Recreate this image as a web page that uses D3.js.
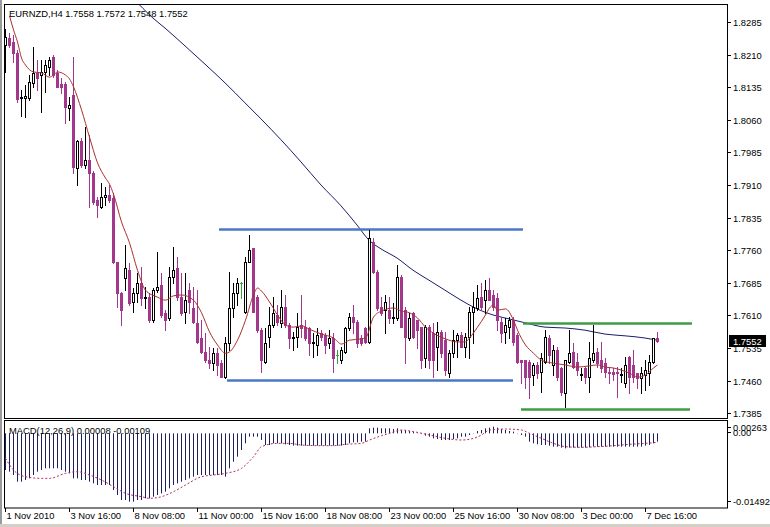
<!DOCTYPE html>
<html><head><meta charset="utf-8">
<script src="https://cdn.jsdelivr.net/npm/d3@7"></script>
<style>
body{margin:0;background:#fff;}
svg text{font-family:"Liberation Sans",Arial,sans-serif;font-size:9.4px;fill:#000;}
</style>
</head><body>
<svg id="c" width="770" height="527"></svg>
<script>
// ---------- DATA ----------
const symbol = "EURNZD,H4";
const open = [
1.8232,1.8248,1.8239,1.8214,1.8110,1.8110,1.8110,1.8145,1.8168,1.8163,
1.8170,1.8181,1.8204,1.8168,1.8143,1.8143,1.8087,1.8117,1.7949,1.8011,
1.7956,1.7968,1.7938,1.7876,1.7859,1.7882,1.7887,1.7880,1.7733,1.7662,
1.7696,1.7714,1.7641,1.7662,1.7685,1.7650,1.7652,1.7599,1.7668,1.7680,
1.7616,1.7604,1.7698,1.7719,1.7652,1.7618,1.7668,1.7627,1.7593,1.7558,
1.7526,1.7507,1.7500,1.7523,1.7500,1.7468,1.7546,1.7627,1.7662,1.7685,
1.7618,1.7733,1.7765,1.7652,1.7576,1.7503,1.7560,1.7588,1.7611,1.7593,
1.7629,1.7588,1.7558,1.7560,1.7588,1.7583,1.7581,1.7546,1.7542,1.7569,
1.7565,1.7546,1.7558,1.7519,1.7507,1.7526,1.7581,1.7606,1.7595,1.7558,
1.7581,1.7549,1.7779,1.7710,1.7629,1.7622,1.7622,1.7604,1.7604,1.7698,
1.7622,1.7558,1.7616,1.7599,1.7583,1.7512,1.7583,1.7569,1.7537,1.7572,
1.7553,1.7477,1.7523,1.7553,1.7565,1.7537,1.7560,1.7618,1.7627,1.7652,
1.7645,1.7668,1.7657,1.7650,1.7595,1.7572,1.7583,1.7599,1.7565,1.7507,
1.7507,1.7503,1.7473,1.7496,1.7480,1.7503,1.7558,1.7496,1.7530,1.7489,
1.7431,1.7503,1.7526,1.7503,1.7473,1.7489,1.7468,1.7507,1.7526,1.7507,
1.7500,1.7480,1.7480,1.7480,1.7474,1.7454,1.7514,1.7496,1.7477,1.7466,
1.7473,1.7477,1.7503,1.7558];
const high = [
1.8269,1.8260,1.8255,1.8221,1.8129,1.8140,1.8163,1.8227,1.8198,1.8198,
1.8198,1.8204,1.8209,1.8175,1.8156,1.8147,1.8112,1.8204,1.8014,1.8018,
1.8043,1.8025,1.7942,1.7882,1.7915,1.7906,1.7910,1.7892,1.7733,1.7664,
1.7772,1.7731,1.7673,1.7708,1.7721,1.7675,1.7662,1.7673,1.7756,1.7708,
1.7622,1.7721,1.7767,1.7744,1.7708,1.7708,1.7685,1.7675,1.7668,1.7599,
1.7569,1.7537,1.7535,1.7535,1.7507,1.7560,1.7710,1.7685,1.7696,1.7687,
1.7744,1.7795,1.7765,1.7657,1.7581,1.7581,1.7629,1.7652,1.7634,1.7668,
1.7657,1.7593,1.7572,1.7616,1.7657,1.7599,1.7583,1.7569,1.7581,1.7576,
1.7569,1.7576,1.7569,1.7530,1.7537,1.7583,1.7616,1.7634,1.7599,1.7565,
1.7583,1.7806,1.7788,1.7714,1.7652,1.7657,1.7652,1.7639,1.7726,1.7703,
1.7629,1.7616,1.7618,1.7599,1.7583,1.7588,1.7588,1.7593,1.7595,1.7576,
1.7572,1.7530,1.7576,1.7569,1.7572,1.7569,1.7629,1.7664,1.7680,1.7685,
1.7691,1.7696,1.7668,1.7662,1.7606,1.7604,1.7606,1.7606,1.7569,1.7507,
1.7507,1.7507,1.7500,1.7503,1.7523,1.7576,1.7565,1.7542,1.7537,1.7491,
1.7507,1.7576,1.7546,1.7523,1.7489,1.7491,1.7549,1.7588,1.7535,1.7549,
1.7512,1.7491,1.7489,1.7491,1.7489,1.7514,1.7516,1.7530,1.7477,1.7491,
1.7507,1.7519,1.7558,1.7572];
const low = [
1.8170,1.8227,1.8193,1.8101,1.8069,1.8067,1.8106,1.8136,1.8129,1.8078,
1.8124,1.8163,1.8158,1.8136,1.8122,1.8053,1.8060,1.7938,1.7910,1.7951,
1.7949,1.7859,1.7866,1.7836,1.7857,1.7864,1.7871,1.7731,1.7629,1.7588,
1.7668,1.7634,1.7618,1.7641,1.7634,1.7627,1.7595,1.7595,1.7664,1.7606,
1.7576,1.7599,1.7685,1.7645,1.7611,1.7593,1.7616,1.7593,1.7546,1.7523,
1.7503,1.7489,1.7484,1.7473,1.7468,1.7466,1.7530,1.7606,1.7634,1.7650,
1.7616,1.7733,1.7618,1.7572,1.7480,1.7500,1.7537,1.7583,1.7588,1.7583,
1.7583,1.7535,1.7530,1.7537,1.7560,1.7553,1.7519,1.7514,1.7519,1.7553,
1.7523,1.7535,1.7480,1.7500,1.7500,1.7523,1.7576,1.7569,1.7537,1.7542,
1.7546,1.7546,1.7708,1.7622,1.7611,1.7569,1.7593,1.7593,1.7599,1.7583,
1.7500,1.7553,1.7558,1.7535,1.7489,1.7491,1.7489,1.7468,1.7484,1.7514,
1.7473,1.7468,1.7514,1.7514,1.7537,1.7514,1.7512,1.7546,1.7622,1.7622,
1.7616,1.7645,1.7622,1.7576,1.7549,1.7546,1.7558,1.7542,1.7500,1.7454,
1.7443,1.7420,1.7450,1.7466,1.7434,1.7500,1.7500,1.7473,1.7461,1.7427,
1.7399,1.7500,1.7489,1.7473,1.7461,1.7454,1.7434,1.7503,1.7491,1.7480,
1.7468,1.7454,1.7461,1.7422,1.7457,1.7445,1.7431,1.7457,1.7443,1.7431,
1.7438,1.7450,1.7500,1.7548];
const close = [
1.8250,1.8232,1.8214,1.8108,1.8112,1.8115,1.8147,1.8168,1.8156,1.8170,
1.8186,1.8198,1.8163,1.8136,1.8136,1.8089,1.8094,1.7951,1.8011,1.7956,
1.7968,1.7938,1.7871,1.7864,1.7882,1.7887,1.7876,1.7733,1.7662,1.7622,
1.7719,1.7639,1.7662,1.7685,1.7650,1.7652,1.7599,1.7668,1.7675,1.7611,
1.7599,1.7698,1.7714,1.7652,1.7616,1.7645,1.7641,1.7595,1.7549,1.7526,
1.7507,1.7500,1.7523,1.7496,1.7468,1.7546,1.7627,1.7662,1.7685,1.7685,
1.7733,1.7760,1.7618,1.7576,1.7507,1.7546,1.7588,1.7616,1.7595,1.7629,
1.7588,1.7558,1.7560,1.7583,1.7581,1.7558,1.7546,1.7549,1.7565,1.7560,
1.7542,1.7558,1.7512,1.7519,1.7530,1.7581,1.7606,1.7595,1.7546,1.7546,
1.7549,1.7788,1.7710,1.7627,1.7616,1.7641,1.7604,1.7606,1.7698,1.7583,
1.7560,1.7604,1.7560,1.7576,1.7507,1.7583,1.7507,1.7507,1.7572,1.7523,
1.7484,1.7523,1.7553,1.7565,1.7537,1.7560,1.7618,1.7629,1.7650,1.7629,
1.7668,1.7645,1.7629,1.7599,1.7569,1.7588,1.7599,1.7549,1.7503,1.7503,
1.7468,1.7468,1.7496,1.7477,1.7512,1.7560,1.7519,1.7530,1.7468,1.7434,
1.7507,1.7523,1.7491,1.7484,1.7475,1.7468,1.7512,1.7523,1.7500,1.7489,
1.7480,1.7477,1.7475,1.7477,1.7476,1.7496,1.7468,1.7468,1.7466,1.7477,
1.7484,1.7503,1.7558,1.7552];

// fast moving average (red): bar index / price
const fastMaBar = [1,2,3,4,5,7,9,11,12,13,15,16,17,19,21,23,25,26,27,29,31,33,35,38,40,42,44,47,49,51,53,55,56,58,60,62,63,64,66,68,70,72,74,76,79,82,84,86,89,90,92,94,97,99,101,103,105,107,110,113,115,116,118,120,121,122,123,125,127,128,130,132,134,137,140,143,146,148,150,152,154,156,158,160,162,163];
const fastMaVal = [1.8299,1.8267,1.8239,1.8202,1.8186,1.8170,1.8168,1.8158,1.8163,1.8170,1.8163,1.8154,1.8136,1.8083,1.8020,1.7961,1.7926,1.7912,1.7889,1.7825,1.7777,1.7714,1.7668,1.7652,1.7645,1.7655,1.7657,1.7645,1.7616,1.7572,1.7542,1.7523,1.7526,1.7553,1.7599,1.7657,1.7673,1.7666,1.7641,1.7611,1.7588,1.7583,1.7586,1.7578,1.7567,1.7558,1.7544,1.7553,1.7556,1.7558,1.7606,1.7620,1.7627,1.7620,1.7616,1.7604,1.7583,1.7569,1.7556,1.7549,1.7549,1.7558,1.7583,1.7611,1.7627,1.7634,1.7622,1.7625,1.7599,1.7576,1.7542,1.7523,1.7507,1.7500,1.7496,1.7491,1.7494,1.7496,1.7491,1.7489,1.7484,1.7477,1.7468,1.7473,1.7489,1.7496];

// slow moving average (navy)
const slowMaBar = [32,37,40,45,50,55,60,64,69,74,79,84,88,91,94,98,102,106,110,114,118,122,126,130,135,140,145,150,155,160,163];
const slowMaVal = [1.8340,1.8294,1.8271,1.8230,1.8188,1.8145,1.8099,1.8062,1.8014,1.7963,1.7910,1.7862,1.7818,1.7783,1.7763,1.7742,1.7714,1.7691,1.7668,1.7645,1.7625,1.7611,1.7602,1.7593,1.7583,1.7581,1.7576,1.7567,1.7563,1.7558,1.7553];

// drawn horizontal levels: start bar, end bar, price, kind
const levelStart = [53.5, 55.5, 129.5, 129];
const levelEnd   = [129.5, 127, 171.75, 171.25];
const levelPrice = [1.7809, 1.7462, 1.7593, 1.7395];
const levelKind  = ["blue","blue","green","green"];

// MACD(12,26,9)
const macdHist = [
-0.00740,-0.00773,-0.00841,-0.00975,-0.00975,-0.00942,-0.00908,-0.00841,-0.00773,-0.00740,
-0.00706,-0.00706,-0.00706,-0.00706,-0.00740,-0.00773,-0.00807,-0.00908,-0.00908,-0.00942,
-0.00942,-0.00975,-0.01009,-0.01042,-0.01042,-0.01042,-0.01042,-0.01143,-0.01244,-0.01345,
-0.01345,-0.01379,-0.01379,-0.01345,-0.01345,-0.01311,-0.01311,-0.01278,-0.01244,-0.01211,
-0.01177,-0.01110,-0.01042,-0.01009,-0.00975,-0.00942,-0.00908,-0.00874,-0.00841,-0.00841,
-0.00841,-0.00841,-0.00841,-0.00841,-0.00841,-0.00874,-0.00706,-0.00572,-0.00471,-0.00336,
-0.00202,-0.00067,-0.00067,-0.00067,-0.00135,-0.00235,-0.00235,-0.00202,-0.00202,-0.00202,
-0.00222,-0.00235,-0.00249,-0.00249,-0.00249,-0.00249,-0.00249,-0.00249,-0.00249,-0.00249,
-0.00249,-0.00249,-0.00249,-0.00249,-0.00249,-0.00235,-0.00202,-0.00182,-0.00182,-0.00168,
-0.00168,0.00101,0.00114,0.00114,0.00101,0.00101,0.00101,0.00087,0.00101,0.00067,
0.00067,0.00047,0.00034,0.00005,-0.00010,-0.00047,-0.00067,-0.00101,-0.00114,-0.00135,
-0.00135,-0.00135,-0.00114,-0.00101,-0.00067,-0.00067,-0.00034,0.00005,0.00047,0.00067,
0.00101,0.00114,0.00134,0.00114,0.00087,0.00067,0.00047,0.00034,0.00005,-0.00034,
-0.00067,-0.00168,-0.00202,-0.00222,-0.00235,-0.00235,-0.00249,-0.00269,-0.00269,-0.00289,
-0.00303,-0.00289,-0.00289,-0.00289,-0.00289,-0.00289,-0.00282,-0.00269,-0.00269,-0.00269,
-0.00269,-0.00269,-0.00269,-0.00269,-0.00269,-0.00269,-0.00269,-0.00269,-0.00269,-0.00269,
-0.00249,-0.00235,-0.00202,-0.00168];
const signalBar = [0,2,5,9,11,15,18,21,24,27,30,34,36,39,42,45,49,52,55,59,62,64,68,71,74,79,82,85,89,91,94,96,99,102,106,110,114,117,119,121,125,129,131,134,137,140,144,148,152,156,160,163];
const signalVal = [-0.00504,-0.00740,-0.00875,-0.00908,-0.00908,-0.00807,-0.00774,-0.00841,-0.00942,-0.01077,-0.01210,-0.01278,-0.01311,-0.01278,-0.01177,-0.01043,-0.00875,-0.00841,-0.00807,-0.00706,-0.00471,-0.00269,-0.00202,-0.00202,-0.00236,-0.00249,-0.00249,-0.00222,-0.00202,-0.00135,-0.00047,0.00000,0.00067,0.00034,-0.00034,-0.00101,-0.00135,-0.00101,-0.00034,0.00067,0.00087,0.00067,0.00000,-0.00101,-0.00202,-0.00269,-0.00282,-0.00269,-0.00249,-0.00222,-0.00202,-0.00182];
const macdHeader = "MACD(12,26,9) 0.00008 -0.00109";

// axis ticks
const priceTicks = [1.8285,1.8210,1.8135,1.8060,1.7985,1.7910,1.7835,1.7760,1.7685,1.7610,1.7535,1.7460,1.7385];
const macdTickVals = [0.00263, 0.00, -0.01492];
const macdTickLabels = ["0.00263","0.00","-0.01492"];
const timeTickBar = [0,16,32,48,64,80,96,112,128,144,160];
const timeTickLabels = ["1 Nov 2010","3 Nov 16:00","8 Nov 08:00","11 Nov 00:00","15 Nov 16:00","18 Nov 08:00","23 Nov 00:00","25 Nov 16:00","30 Nov 08:00","3 Dec 00:00","7 Dec 16:00"];

// ---------- DRAW ----------
const svg = d3.select("#c");
const BEAR = "#a3378c", BULL_STROKE = "#000", DOJI = "#2fa82f";
const n = open.length;

const x = d3.scaleLinear().domain([0, 163]).range([5, 657]);
const y = d3.scaleLinear().domain([1.7385, 1.8285]).range([413.2, 22]);
const ym = d3.scaleLinear().domain([-0.01492, 0.00263]).range([507.3, 420.3]);
const f4 = d3.format(".4f");

svg.append("rect").attr("width",770).attr("height",527).attr("fill","#fff");
// window frame
svg.append("rect").attr("x",0).attr("y",0).attr("width",2).attr("height",527).attr("fill","#9a9a9a");
svg.append("rect").attr("x",0).attr("y",524).attr("width",770).attr("height",3).attr("fill","#d4d0c8");

const defs = svg.append("defs");
defs.append("clipPath").attr("id","mainClip").append("rect")
  .attr("x",5).attr("y",5).attr("width",722).attr("height",413);
defs.append("clipPath").attr("id","macdClip").append("rect")
  .attr("x",5).attr("y",421).attr("width",722).attr("height",87);

const main = svg.append("g").attr("clip-path","url(#mainClip)");

// slow MA
main.append("path")
  .datum(slowMaBar.map((b,i)=>[b, slowMaVal[i]]))
  .attr("fill","none").attr("stroke","#1c1c6e").attr("stroke-width",1)
  .attr("d", d3.line().x(d=>x(d[0])).y(d=>y(d[1])).curve(d3.curveMonotoneX));

// horizontal level lines
levelPrice.forEach((p,i)=>{
  main.append("line")
    .attr("x1", x(levelStart[i])).attr("x2", x(levelEnd[i]))
    .attr("y1", Math.round(y(p))+0.5).attr("y2", Math.round(y(p))+0.5)
    .attr("stroke", levelKind[i]==="blue" ? "#4a78c4" : "#3f9c46")
    .attr("stroke-width", 2.6);
});

// candles
const cg = main.append("g");
for (let i=0;i<n;i++){
  const cx = Math.round(x(i));
  const o = open[i], c = close[i];
  const yo = Math.round(y(o)), yc = Math.round(y(c));
  const yh = Math.round(y(high[i])), yl = Math.round(y(low[i]));
  let col = c > o ? BULL_STROKE : (c < o ? BEAR : DOJI);
  cg.append("line").attr("x1",cx+0.5).attr("x2",cx+0.5)
    .attr("y1",yh).attr("y2",yl+1).attr("stroke",col).attr("stroke-width",1);
  if (c > o) {
    cg.append("rect").attr("x",cx-0.5).attr("y",yc+0.5)
      .attr("width",2).attr("height",Math.max(1,yo-yc))
      .attr("fill","#fff").attr("stroke","#000").attr("stroke-width",1);
  } else if (c < o) {
    cg.append("rect").attr("x",cx-1).attr("y",yo)
      .attr("width",3).attr("height",Math.max(1,yc-yo+1))
      .attr("fill",BEAR);
  } else {
    cg.append("line").attr("x1",cx-1).attr("x2",cx+2)
      .attr("y1",yo+0.5).attr("y2",yo+0.5).attr("stroke",DOJI);
  }
}

// fast MA
main.append("path")
  .datum(fastMaBar.map((b,i)=>[b, fastMaVal[i]]))
  .attr("fill","none").attr("stroke","#a8302c").attr("stroke-width",1)
  .attr("d", d3.line().x(d=>x(d[0])+0.5).y(d=>y(d[1])).curve(d3.curveMonotoneX));

// panel borders
svg.append("rect").attr("x",4.5).attr("y",4.5).attr("width",723).attr("height",414)
  .attr("fill","none").attr("stroke","#000");
svg.append("rect").attr("x",4.5).attr("y",420.5).attr("width",723).attr("height",87.5)
  .attr("fill","none").attr("stroke","#000");

// header
const last = n-1;
svg.append("text").attr("x",9).attr("y",17)
  .text(symbol + "  " + [open[last],high[last],low[last],close[last]].map(f4).join(" "));

// price axis
priceTicks.forEach(v=>{
  const yy = Math.round(y(v));
  svg.append("line").attr("x1",728).attr("x2",731).attr("y1",yy+0.5).attr("y2",yy+0.5).attr("stroke","#000");
  svg.append("text").attr("x",733).attr("y",yy+3.5).text(f4(v));
});
// current price marker
const yLast = Math.round(y(close[last]));
svg.append("rect").attr("x",729).attr("y",yLast-6).attr("width",37).attr("height",12).attr("fill","#000");
svg.append("text").attr("x",733).attr("y",yLast+3.5).style("fill","#fff").text(f4(close[last]));

// MACD panel
const mg = svg.append("g").attr("clip-path","url(#macdClip)");
const y0 = ym(0);
macdHist.forEach((v,i)=>{
  const cx = Math.round(x(i))+0.5;
  mg.append("line").attr("x1",cx).attr("x2",cx)
    .attr("y1",y0).attr("y2",ym(v))
    .attr("stroke","#1e1e5c").attr("stroke-width",1);
});
mg.append("path")
  .datum(signalBar.map((b,i)=>[b, signalVal[i]]))
  .attr("fill","none").attr("stroke","#b0305a").attr("stroke-width",1)
  .attr("stroke-dasharray","2,2")
  .attr("d", d3.line().x(d=>x(d[0])+0.5).y(d=>ym(d[1])).curve(d3.curveMonotoneX));
svg.append("text").attr("x",9).attr("y",434).text(macdHeader);

macdTickVals.forEach((v,i)=>{
  const yy = i===0 ? 427 : (i===1 ? 432 : 501);
  svg.append("line").attr("x1",728).attr("x2",731).attr("y1",yy+0.5).attr("y2",yy+0.5).attr("stroke","#000");
  svg.append("text").attr("x",733).attr("y",yy+3.5).text(macdTickLabels[i]);
});

// time axis
timeTickBar.forEach((b,i)=>{
  const xx = Math.round(x(b))+0.5;
  svg.append("line").attr("x1",xx).attr("x2",xx).attr("y1",508).attr("y2",512).attr("stroke","#000");
  svg.append("text").attr("x",xx+1).attr("y",519).text(timeTickLabels[i]);
});
</script>
</body></html>
